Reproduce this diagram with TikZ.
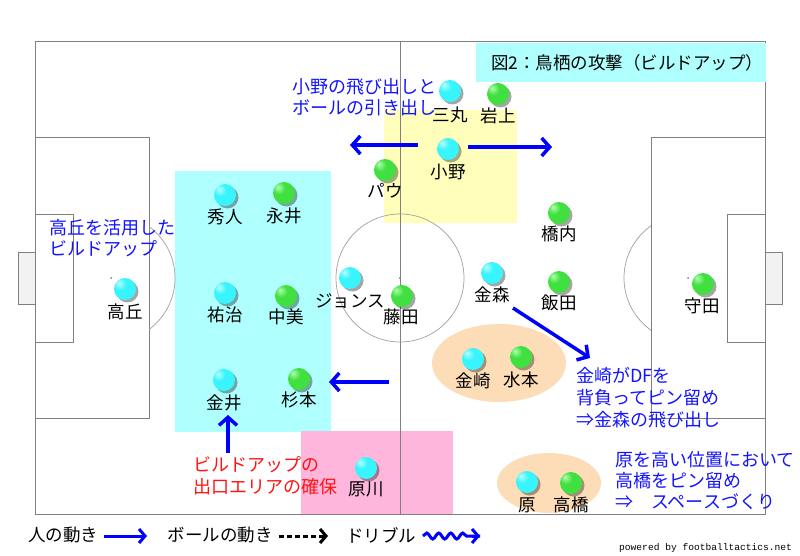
\documentclass[tikz,border=0pt]{standalone}
\usepackage{fontspec}
\setmainfont{Noto Sans CJK JP}
\newfontfamily\monof{Liberation Mono}
\usetikzlibrary{arrows.meta,shadows,decorations.pathmorphing}
\definecolor{pitchline}{HTML}{808080}
\definecolor{arcline}{HTML}{A0A0A0}
\definecolor{goalfill}{HTML}{F2F2F2}
\definecolor{zoneyellow}{HTML}{FFFFBB}
\definecolor{zonecyan}{HTML}{B0FFFF}
\definecolor{zonepink}{HTML}{FFB6DC}
\definecolor{zonepeach}{HTML}{FCDDB8}
\definecolor{cyanB}{HTML}{38F4FC}
\definecolor{cyanHi}{HTML}{B8FFFF}
\definecolor{cyanDk}{HTML}{20C8D8}
\definecolor{greenB}{HTML}{40E040}
\definecolor{greenHi}{HTML}{B0FFB0}
\definecolor{greenDk}{HTML}{28B028}
\definecolor{noteblue}{HTML}{1414FF}
\definecolor{notered}{HTML}{FF1414}
\pgfdeclareradialshading{cyanball}{\pgfpoint{-14bp}{14bp}}{color(0bp)=(cyanHi); color(14bp)=(cyanB); color(50bp)=(cyanB); color(70bp)=(cyanDk)}
\pgfdeclareradialshading{greenball}{\pgfpoint{-14bp}{14bp}}{color(0bp)=(greenHi); color(14bp)=(greenB); color(50bp)=(greenB); color(70bp)=(greenDk)}
\begin{document}
\begin{tikzpicture}[x=1pt,y=-1pt,
  pline/.style={draw=pitchline, line width=0.9pt},
  player/.style={circle, minimum size=22pt, inner sep=0pt,
    drop shadow={shadow xshift=2.5pt, shadow yshift=-2.5pt, fill=black, opacity=0.35}},
  cyanp/.style={player, shading=cyanball},
  greenp/.style={player, shading=greenball},
  plabel/.style={font=\fontsize{17.5}{20}\selectfont, inner sep=0pt},
  note/.style={font=\fontsize{18}{#1}\selectfont, text=noteblue, align=left, inner sep=0pt, anchor=north west},
  mover/.style={draw=blue, line width=3.5pt, -{Straight Barb[length=8pt,width=18pt]}},
  legmove/.style={draw=blue, line width=3pt, -{Straight Barb[length=6pt,width=14pt]}},
  legball/.style={draw=black, line width=3pt, dash pattern=on 5pt off 3pt, -{Straight Barb[length=6pt,width=14pt]}},
  legdrib/.style={draw=blue, line width=3pt, decorate, decoration={snake, amplitude=3pt, segment length=12pt, post length=8pt}},
]
\useasboundingbox (0,0) rectangle (800,556);
\fill[white] (0,0) rectangle (800,556);
% zones
\fill[zonecyan] (175,171) rectangle (331,432);
\fill[zoneyellow] (384,110) rectangle (517,223);
\fill[zonepink] (301,431) rectangle (453,514);
\fill[zonepeach] (499,363) ellipse[x radius=67pt, y radius=39pt];
\fill[zonepeach] (549,483) ellipse[x radius=52pt, y radius=30pt];
% pitch
\filldraw[pline, fill=goalfill] (18,252) rectangle (35,304);
\filldraw[pline, fill=goalfill] (765,252) rectangle (782,304);
\draw[pline] (35,41) rectangle (765,514);
\draw[pline] (400,41) -- (400,514);
\draw[pline] (35,137) rectangle (149,418);
\draw[pline] (35,214) rectangle (73,342);
\draw[pline] (651,137) rectangle (765,418);
\draw[pline] (727,214) rectangle (765,342);
\draw[draw=arcline, line width=0.7pt] (400,278) circle[radius=64pt];
\begin{scope}
\clip (149,100) rectangle (300,450);
\draw[draw=arcline, line width=0.7pt] (111,278) circle[radius=64pt];
\end{scope}
\begin{scope}
\clip (500,100) rectangle (651,450);
\draw[draw=arcline, line width=0.7pt] (688,278) circle[radius=64pt];
\end{scope}
\fill[pitchline] (400,278) circle[radius=1.2pt];
\fill[pitchline] (111,278) circle[radius=1pt];
\fill[pitchline] (688,278) circle[radius=1pt];
% title
\fill[zonecyan] (476,43) rectangle (766,82);
\node[plabel, anchor=west] (title) at (491,63) {図2：鳥栖の攻撃（ビルドアップ）};
% players
\node[cyanp] (sanmaru) at (450,91) {};
\node[plabel] (sanmarul) at (450,115) {三丸};
\node[greenp] (iwakami) at (498,94) {};
\node[plabel] (iwakamil) at (498,116) {岩上};
\node[cyanp] (ono) at (448,149) {};
\node[plabel] (onol) at (448,172) {小野};
\node[greenp] (pau) at (385,170) {};
\node[plabel] (paul) at (385,191) {パウ};
\node[cyanp] (hideto) at (225,195) {};
\node[plabel] (hidetol) at (225,217) {秀人};
\node[greenp] (nagai) at (284,193) {};
\node[plabel] (nagail) at (284,216) {永井};
\node[greenp] (hashiuchi) at (559,213) {};
\node[plabel] (hashiuchil) at (559,234) {橋内};
\node[cyanp] (takaoka) at (125,289) {};
\node[plabel] (takaokal) at (125,312) {高丘};
\node[cyanp] (yuji) at (225,293) {};
\node[plabel] (yujil) at (225,315) {祐治};
\node[greenp] (nakami) at (286,296) {};
\node[plabel] (nakamil) at (286,317) {中美};
\node[cyanp] (jonsu) at (350,278) {};
\node[plabel] (jonsul) at (350,301) {ジョンス};
\node[greenp] (fujita) at (402,296) {};
\node[plabel] (fujital) at (401,317) {藤田};
\node[cyanp] (kanamori) at (492,273) {};
\node[plabel] (kanamoril) at (492,295) {金森};
\node[greenp] (iida) at (559,282) {};
\node[plabel] (iidal) at (559,303) {飯田};
\node[greenp] (morita) at (703,284) {};
\node[plabel] (morital) at (702,306) {守田};
\node[cyanp] (kanazaki) at (473,359) {};
\node[plabel] (kanazakil) at (473,381) {金崎};
\node[greenp] (mizumoto) at (521,357) {};
\node[plabel] (mizumotol) at (521,380) {水本};
\node[cyanp] (kanai) at (224,380) {};
\node[plabel] (kanail) at (224,403) {金井};
\node[greenp] (sugimoto) at (299,379) {};
\node[plabel] (sugimotol) at (299,400) {杉本};
\node[cyanp] (harakawa) at (366,468) {};
\node[plabel] (harakawal) at (366,489) {原川};
\node[cyanp] (hara) at (527,482) {};
\node[plabel] (haral) at (527,505) {原};
\node[greenp] (takahashi) at (571,483) {};
\node[plabel] (takahashil) at (571,505) {高橋};
% arrows
\coordinate (a1s) at (418,145); \coordinate (a1e) at (350,145);
\coordinate (a2s) at (468,147); \coordinate (a2e) at (552,147);
\coordinate (a3s) at (389,382); \coordinate (a3e) at (329,382);
\coordinate (a4s) at (228,453); \coordinate (a4e) at (228,415);
\coordinate (a5s) at (513,308); \coordinate (a5e) at (590,358);
\draw[mover] (a1s) -- (a1e);
\draw[mover] (a2s) -- (a2e);
\draw[mover] (a3s) -- (a3e);
\draw[mover] (a4s) -- (a4e);
\draw[mover] (a5s) -- (a5e);
% notes
\node[note=20.5] (n1) at (292,78.5) {小野の飛び出しと\\ボールの引き出し};
\node[note=21] (n2) at (49,219) {高丘を活用した\\ビルドアップ};
\node[note=22, text=notered] (n3) at (193,456) {ビルドアップの\\出口エリアの確保};
\node[note=21.8] (n4) at (576,367.5) {金崎がDFを\\背負ってピン留め\\⇒金森の飛び出し};
\node[note=21.3] (n5) at (615,451) {原を高い位置において\\高橋をピン留め\\⇒　スペースづくり};
% legend
\node[plabel] (leg1) at (63,535) {人の動き};
\coordinate (l1s) at (104,536); \coordinate (l1e) at (147,536);
\draw[legmove] (l1s) -- (l1e);
\node[plabel] (leg2) at (220,535) {ボールの動き};
\coordinate (l2s) at (279,536); \coordinate (l2e) at (328,536);
\draw[legball] (l2s) -- (l2e);
\node[plabel] (leg3) at (381,535) {ドリブル};
\coordinate (l3s) at (423,536); \coordinate (l3e) at (480,536);
\draw[legdrib] (l3s) -- (l3e);
\draw[draw=blue, line width=3pt, -{Straight Barb[length=6pt,width=14pt]}] (472,536) -- (l3e);
\node[font=\monof\fontsize{9.6}{11}\selectfont, anchor=west, inner sep=0pt] (credit) at (619,548) {powered by footballtactics.net};
\end{tikzpicture}
\end{document}
